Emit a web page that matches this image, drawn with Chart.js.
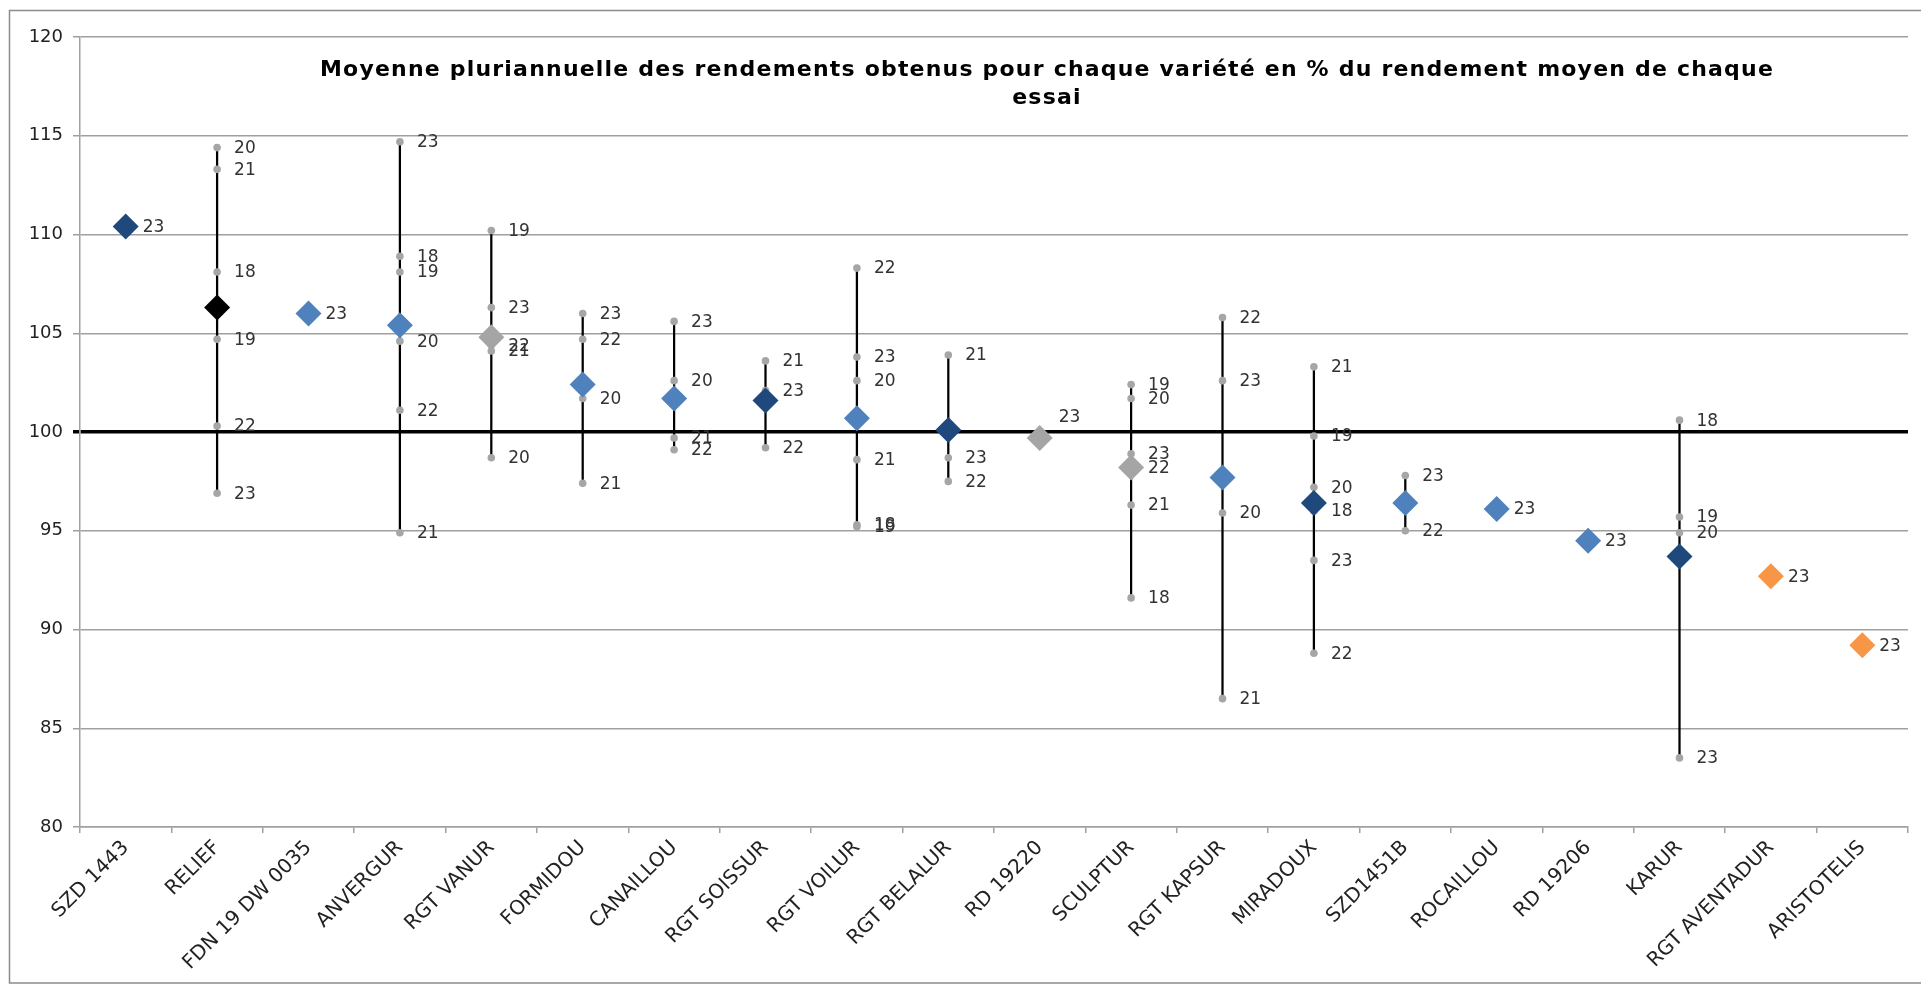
<!DOCTYPE html>
<html lang="fr">
<head>
<meta charset="UTF-8">
<title>Rendements pluriannuels</title>
<script src="https://cdn.jsdelivr.net/npm/chart.js"></script>
<style>
  html, body { margin: 0; padding: 0; background: #fff; overflow: hidden; }
  #wrap { width: 1921px; height: 986px; }
</style>
</head>
<body>
<div id="wrap"><canvas id="chart"></canvas></div>
<script>
  // varietes, dans l'ordre du graphique
  const varieties = ['SZD 1443', 'RELIEF', 'FDN 19 DW 0035', 'ANVERGUR', 'RGT VANUR', 'FORMIDOU',
    'CANAILLOU', 'RGT SOISSUR', 'RGT VOILUR', 'RGT BELALUR', 'RD 19220', 'SCULPTUR',
    'RGT KAPSUR', 'MIRADOUX', 'SZD1451B', 'ROCAILLOU', 'RD 19206', 'KARUR',
    'RGT AVENTADUR', 'ARISTOTELIS'];

  // rendement en % de la moyenne de l'essai, par annee (null = pas d'essai)
  const y18 = [null, 108.1, null, 108.9, null, null, null, null, 95.3, null, null, 91.6, null, 96.0, null, null, null, 100.6, null, null];
  const y19 = [null, 104.7, null, 108.1, 110.2, null, null, null, 95.2, null, null, 102.4, null, 99.8, null, null, null, 95.7, null, null];
  const y20 = [null, 114.4, null, 104.6, 98.7, 101.7, 102.6, null, 102.6, null, null, 101.7, 95.9, 97.2, null, null, null, 94.9, null, null];
  const y21 = [null, 113.3, null, 94.9, 104.1, 97.4, 99.7, 103.6, 98.6, 103.9, null, 96.3, 86.5, 103.3, null, null, null, null, null, null];
  const y22 = [null, 100.3, null, 101.1, 104.4, 104.7, 99.1, 99.2, 108.3, 97.5, null, 98.2, 105.8, 88.8, 95.0, null, null, null, null, null];
  const y23 = [110.4, 96.9, 106.0, 114.7, 106.3, 106.0, 105.6, 102.1, 103.8, 98.7, 99.7, 98.9, 102.6, 93.5, 97.8, 96.1, 94.5, 83.5, 92.7, 89.2];

  // moyenne pluriannuelle
  const moyenne = [110.4, 106.3, 106.0, 105.4, 104.8, 102.4, 101.7, 101.6, 100.7, 100.1, 99.7, 98.2, 97.7, 96.4, 96.4, 96.1, 94.5, 93.7, 92.7, 89.2];
  // groupe de la variete (couleur du losange)
  const groupe = ['fonce', 'temoin', 'clair', 'clair', 'gris', 'clair', 'clair', 'fonce', 'clair', 'fonce',
    'gris', 'gris', 'clair', 'fonce', 'clair', 'clair', 'clair', 'fonce', 'orange', 'orange'];

  const years = ['18', '19', '20', '21', '22', '23'];
  const yearValues = [y18, y19, y20, y21, y22, y23];
  const yMin = 80, yMax = 120, yStep = 5;

  const groupColors = { temoin: '#000000', fonce: '#1f497d', clair: '#4f81bd', gris: '#a5a5a5', orange: '#f79646' };

  // barre min-max quand il y a plusieurs annees
  const ranges = varieties.map((v, i) => {
    const vals = yearValues.map(a => a[i]).filter(x => x != null);
    return vals.length > 1 ? [Math.min(...vals), Math.max(...vals)] : null;
  });

  const FONT = '"DejaVu Sans", Verdana, sans-serif';

  const datasets = [];
  datasets.push({
    type: 'bar',
    label: 'min-max',
    data: ranges,
    backgroundColor: '#000',
    barThickness: 1.6,
    order: 3
  });
  years.forEach((yr, k) => {
    datasets.push({
      type: 'line',
      label: yr,
      yearLabel: yr,
      data: yearValues[k],
      showLine: false,
      pointRadius: 3.8,
      pointHoverRadius: 3.8,
      pointBackgroundColor: '#a6a6a6',
      pointBorderWidth: 0,
      order: 2
    });
  });
  datasets.push({
    type: 'line',
    label: 'moyenne',
    data: moyenne,
    showLine: false,
    pointStyle: 'rectRot',
    pointRadius: 13,
    pointHoverRadius: 13,
    pointBackgroundColor: groupe.map(g => groupColors[g]),
    pointBorderWidth: 0,
    order: 1
  });

  const frame = {
    id: 'frame',
    beforeDraw(chart) {
      const ctx = chart.ctx;
      ctx.save();
      ctx.strokeStyle = '#8c8c8c';
      ctx.lineWidth = 1.5;
      ctx.strokeRect(9.5, 10.5, 1930, 972.5);
      ctx.restore();
    }
  };

  const titleInside = {
    id: 'titleInside',
    afterDraw(chart, args, opts) {
      const ctx = chart.ctx;
      ctx.save();
      ctx.font = 'bold 22px ' + FONT;
      ctx.letterSpacing = '1.2px';
      ctx.fillStyle = '#000';
      ctx.textAlign = 'center';
      ctx.textBaseline = 'middle';
      opts.lines.forEach((t, i) => ctx.fillText(t, opts.x, opts.y + i * 28));
      ctx.restore();
    }
  };

  const yearLabels = {
    id: 'yearLabels',
    afterDatasetsDraw(chart, args, opts) {
      const ctx = chart.ctx;
      ctx.save();
      ctx.font = '17px ' + FONT;
      ctx.fillStyle = '#333';
      ctx.textBaseline = 'middle';
      chart.data.datasets.forEach((ds, i) => {
        if (!ds.yearLabel) return;
        const meta = chart.getDatasetMeta(i);
        meta.data.forEach((pt, j) => {
          if (ds.data[j] == null) return;
          if (opts.above.includes(j)) ctx.fillText(ds.yearLabel, pt.x + 19, pt.y - 20);
          else ctx.fillText(ds.yearLabel, pt.x + 17, pt.y + 1);
        });
      });
      ctx.restore();
    }
  };

  new Chart(document.getElementById('chart'), {
    data: { labels: varieties, datasets: datasets },
    options: {
      responsive: true,
      maintainAspectRatio: false,
      animation: false,
      layout: { padding: { left: 12, top: 37, right: 13, bottom: 6 } },
      plugins: {
        legend: { display: false },
        tooltip: { enabled: false },
        titleInside: {
          lines: ['Moyenne pluriannuelle des rendements obtenus pour chaque variété en % du rendement moyen de chaque', 'essai'],
          x: 1047, y: 70
        },
        yearLabels: { above: [10] }
      },
      scales: {
        x: {
          type: 'category',
          offset: true,
          grid: { offset: true, drawOnChartArea: false, drawTicks: true, tickLength: 6, color: '#a0a0a0', lineWidth: 1.5 },
          border: { display: true, color: '#a0a0a0', width: 1.5 },
          ticks: {
            autoSkip: false,
            minRotation: 45,
            maxRotation: 45,
            color: '#222',
            font: { family: FONT, size: 20 }
          },
          afterFit(scale) { scale.height = 153; }
        },
        y: {
          min: yMin,
          max: yMax,
          ticks: { stepSize: yStep, color: '#222', padding: 10, font: { family: FONT, size: 18 } },
          grid: {
            color: c => (c.tick && c.tick.value === 100) ? '#000' : '#a0a0a0',
            lineWidth: c => (c.tick && c.tick.value === 100) ? 3.5 : 1.5,
            tickLength: 7
          },
          border: { display: true, color: '#a0a0a0', width: 1.5 },
          afterFit(scale) { scale.width = 68; }
        }
      }
    },
    plugins: [frame, titleInside, yearLabels]
  });
</script>
</body>
</html>
